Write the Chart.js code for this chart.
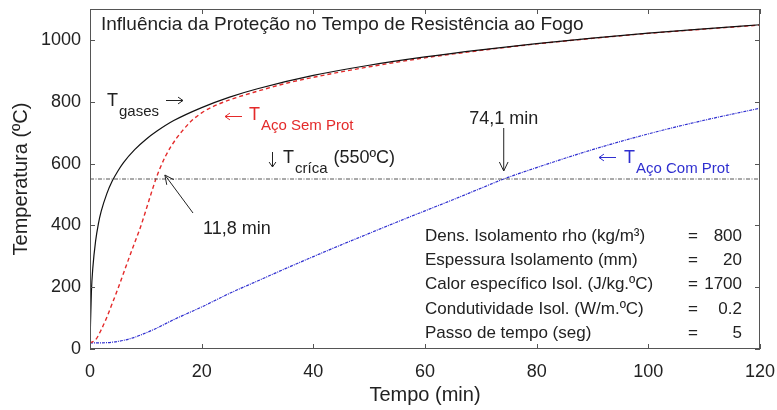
<!DOCTYPE html>
<html>
<head>
<meta charset="utf-8">
<title>Influência da Proteção no Tempo de Resistência ao Fogo</title>
<script src="https://cdn.jsdelivr.net/npm/chart.js@4/dist/chart.umd.min.js"></script>
<style>
  html, body { margin: 0; padding: 0; background: #fff; }
  #wrap { width: 777px; height: 410px; }
</style>
</head>
<body>
<div id="wrap"><canvas id="myChart" width="777" height="410"></canvas></div>
<script>
// tempo (min) e temperaturas
var timeGases = [0, 0.25, 0.5, 1, 1.5, 2, 3, 4, 5, 6, 8, 10, 12, 15, 20, 25, 30, 40, 50, 60, 70, 80, 90, 100, 110, 120];
var tempGases = [20, 185, 261, 349, 405, 445, 502, 544, 576, 603, 645, 678, 705, 739, 781, 815, 842, 885, 918, 945, 968, 988, 1006, 1022, 1036, 1049];

var timeSemProt = [0, 1, 2, 3, 4, 5, 6, 7, 8, 9, 10, 11, 11.8, 12.5, 13.5, 14.5, 15.5, 16.5, 18, 20, 22, 25, 30, 35, 40, 50, 60, 70, 80, 90, 100, 110, 120];
var tempSemProt = [20, 30, 62, 102, 148, 195, 245, 295, 344, 392, 448, 506, 550, 583, 623, 655, 682, 705, 735, 764, 784, 806, 834, 859, 879, 913, 942, 966, 987, 1005, 1021, 1035, 1048];

var timeComProt = [0, 2, 4, 6, 8, 10, 12, 15, 20, 25, 30, 35, 40, 45, 50, 55, 60, 65, 70, 74.1, 80, 90, 100, 110, 120];
var tempComProt = [20, 20, 22, 28, 38, 52, 68, 95, 136, 180, 220, 260, 299, 337, 374, 411, 447, 483, 520, 550, 587, 645, 696, 740, 779];

var timeCritica = [0, 120];
var tempCritica = [550, 550];

var xTicks = [0, 20, 40, 60, 80, 100, 120];
var yTicks = [0, 200, 400, 600, 800, 1000];

var tableLabels = ['Dens. Isolamento rho (kg/m\u00B3)', 'Espessura Isolamento (mm)', 'Calor espec\u00EDfico Isol. (J/kg.\u00BAC)', 'Condutividade Isol. (W/m.\u00BAC)', 'Passo de tempo (seg)'];
var tableValues = ['800', '20', '1700', '0.2', '5'];

var FONT = "'Liberation Sans', Arial, Helvetica, sans-serif";
var RED = '#e42a2a';
var BLUE = '#2f2fd0';
var DARK = '#222';

function toPoints(xs, ys) {
  return xs.map(function(x, i) { return {x: x, y: ys[i]}; });
}

function font(size) {
  return size + 'px ' + FONT;
}

// T com subscrito
function drawSub(ctx, x, y, main, sub, color) {
  ctx.fillStyle = color;
  ctx.textAlign = 'left';
  ctx.textBaseline = 'alphabetic';
  ctx.font = font(18);
  ctx.fillText(main, x, y);
  var w = ctx.measureText(main).width;
  ctx.font = font(15);
  ctx.fillText(sub, x + w + 1, y + 10);
  return x + w + 1 + ctx.measureText(sub).width;
}

function arrowLine(ctx, x1, y1, x2, y2, h, ang) {
  var a = Math.atan2(y2 - y1, x2 - x1);
  h = h || 10;
  ang = ang || 0.45;
  ctx.beginPath();
  ctx.moveTo(x1, y1);
  ctx.lineTo(x2, y2);
  ctx.moveTo(x2 - h * Math.cos(a - ang), y2 - h * Math.sin(a - ang));
  ctx.lineTo(x2, y2);
  ctx.lineTo(x2 - h * Math.cos(a + ang), y2 - h * Math.sin(a + ang));
  ctx.stroke();
}

var annotate = {
  id: 'annotate',
  afterDraw: function(chart) {
    var ctx = chart.ctx;
    var xs = chart.scales.x, ys = chart.scales.y;
    var area = chart.chartArea;
    var X = function(v) { return xs.getPixelForValue(v); };
    var Y = function(v) { return ys.getPixelForValue(v); };
    ctx.save();

    // moldura e marcas para dentro
    ctx.strokeStyle = '#555';
    ctx.lineWidth = 1;
    ctx.strokeRect(area.left + 0.5, area.top + 0.5, area.right - area.left - 1, area.bottom - area.top - 1);
    ctx.beginPath();
    xTicks.forEach(function(v) {
      var px = Math.round(X(v)) + 0.5;
      ctx.moveTo(px, area.bottom); ctx.lineTo(px, area.bottom - 5);
      ctx.moveTo(px, area.top); ctx.lineTo(px, area.top + 5);
    });
    yTicks.forEach(function(v) {
      var py = Math.round(Y(v)) + 0.5;
      ctx.moveTo(area.left, py); ctx.lineTo(area.left + 5, py);
      ctx.moveTo(area.right, py); ctx.lineTo(area.right - 5, py);
    });
    ctx.stroke();

    // titulos dos eixos
    ctx.fillStyle = DARK;
    ctx.font = font(20);
    ctx.textAlign = 'center';
    ctx.textBaseline = 'middle';
    ctx.fillText('Tempo (min)', (area.left + area.right) / 2, 395);
    ctx.save();
    ctx.translate(21, (area.top + area.bottom) / 2);
    ctx.rotate(-Math.PI / 2);
    ctx.fillText('Temperatura (\u00BAC)', 0, 0);
    ctx.restore();

    // titulo
    ctx.textAlign = 'left';
    ctx.textBaseline = 'alphabetic';
    ctx.font = font(19);
    ctx.fillText('Influ\u00EAncia da Prote\u00E7\u00E3o no Tempo de Resist\u00EAncia ao Fogo', 101, 30);

    // T gases
    drawSub(ctx, 107, 106, 'T', 'gases', DARK);
    ctx.strokeStyle = DARK;
    ctx.lineWidth = 1;
    arrowLine(ctx, 166, 100.5, 183, 100.5, 6, 0.6);

    // T aco sem protecao
    ctx.strokeStyle = RED;
    arrowLine(ctx, 242, 116.5, 225, 116.5, 6, 0.6);
    drawSub(ctx, 249, 120, 'T', 'A\u00E7o Sem Prot', RED);

    // T critica
    ctx.strokeStyle = DARK;
    arrowLine(ctx, 272.5, 152, 272.5, 167, 6, 0.6);
    var end = drawSub(ctx, 283, 163, 'T', 'cr\u00EDca', DARK);
    ctx.font = font(18);
    ctx.fillText('(550\u00BAC)', end + 6, 163);

    // T aco com protecao
    ctx.strokeStyle = BLUE;
    arrowLine(ctx, 616, 157.5, 599, 157.5, 6, 0.6);
    drawSub(ctx, 624, 163, 'T', 'A\u00E7o Com Prot', BLUE);

    // tempos de resistencia
    ctx.fillStyle = DARK;
    ctx.strokeStyle = DARK;
    ctx.lineWidth = 1;
    ctx.font = font(18);
    ctx.textAlign = 'center';
    ctx.fillText('74,1 min', X(74.1), 124);
    arrowLine(ctx, X(74.1), 128, X(74.1), Y(550) - 8);
    ctx.textAlign = 'left';
    ctx.fillText('11,8 min', 203, 234);
    arrowLine(ctx, 193, 213, X(11.8) + 9, Y(550) - 4);

    // tabela de parametros
    ctx.font = font(17);
    ctx.textBaseline = 'middle';
    tableLabels.forEach(function(lbl, i) {
      var py = 236 + i * 24.3;
      ctx.textAlign = 'left';
      ctx.fillText(lbl, 425, py);
      ctx.textAlign = 'center';
      ctx.fillText('=', 693, py);
      ctx.textAlign = 'right';
      ctx.fillText(tableValues[i], 742, py);
    });

    ctx.restore();
  }
};

var chart = new Chart(document.getElementById('myChart').getContext('2d'), {
  type: 'line',
  data: {
    datasets: [
      {
        label: 'T cr\u00EDtica',
        data: toPoints(timeCritica, tempCritica),
        borderColor: '#555',
        borderWidth: 1,
        borderDash: [4, 1.5, 1, 1.5],
        pointRadius: 0,
        fill: false
      },
      {
        label: 'T gases',
        data: toPoints(timeGases, tempGases),
        borderColor: '#111',
        borderWidth: 1.2,
        pointRadius: 0,
        cubicInterpolationMode: 'monotone',
        fill: false
      },
      {
        label: 'T A\u00E7o Sem Prot',
        data: toPoints(timeSemProt, tempSemProt),
        borderColor: RED,
        borderWidth: 1.4,
        borderDash: [4, 3],
        pointRadius: 0,
        cubicInterpolationMode: 'monotone',
        fill: false
      },
      {
        label: 'T A\u00E7o Com Prot',
        data: toPoints(timeComProt, tempComProt),
        borderColor: BLUE,
        borderWidth: 1.2,
        borderDash: [3, 1, 1, 1],
        pointRadius: 0,
        cubicInterpolationMode: 'monotone',
        fill: false
      }
    ]
  },
  options: {
    responsive: false,
    animation: false,
    devicePixelRatio: 1,
    layout: { padding: { top: 9, right: 17, left: 0, bottom: 0 } },
    plugins: {
      legend: { display: false },
      tooltip: { enabled: false }
    },
    scales: {
      x: {
        type: 'linear',
        min: 0,
        max: 120,
        grid: { display: false, drawTicks: false },
        border: { display: false },
        afterBuildTicks: function(s) { s.ticks = xTicks.map(function(v) { return {value: v}; }); },
        afterFit: function(s) { s.height = 61; s.paddingLeft = 0; s.paddingRight = 0; },
        ticks: { color: DARK, font: { family: FONT, size: 18 }, padding: 12, maxRotation: 0,
                 callback: function(v) { return String(v); } }
      },
      y: {
        min: 0,
        max: 1100,
        grid: { display: false, drawTicks: false },
        border: { display: false },
        afterBuildTicks: function(s) { s.ticks = yTicks.map(function(v) { return {value: v}; }); },
        afterFit: function(s) { s.width = 90; s.paddingTop = 0; s.paddingBottom = 0; },
        ticks: { color: DARK, font: { family: FONT, size: 18 }, padding: 9,
                 callback: function(v) { return String(v); } }
      }
    }
  },
  plugins: [annotate]
});
</script>
</body>
</html>
